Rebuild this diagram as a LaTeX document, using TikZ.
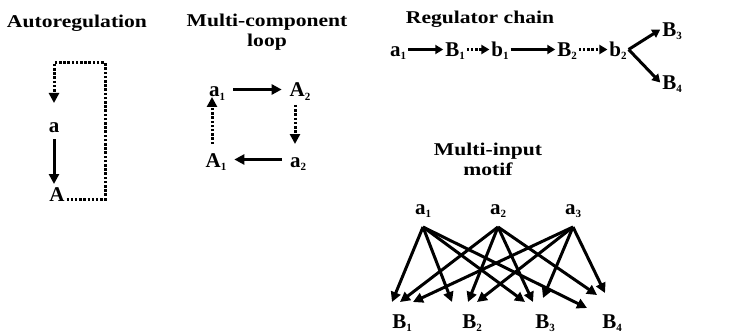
\documentclass[tikz,border=0pt]{standalone}
\usepackage{fontspec}
\setmainfont{Liberation Serif}
\newfontfamily\ttlfamily{Liberation Serif}[FakeStretch=1.2]
\usetikzlibrary{arrows.meta}
\newcommand{\lblfont}{\fontsize{21}{24}\selectfont\bfseries}
\newcommand{\ttlfont}{\ttlfamily\fontsize{18}{20}\selectfont\bfseries}
\newcommand{\idx}[1]{\raisebox{-3pt}{\fontsize{11}{11}\selectfont#1}}
\begin{document}
\begin{tikzpicture}[x=1pt,y=-1pt,>={Triangle[length=10pt,width=10pt]},
	lbl/.style={font=\lblfont,inner sep=0pt,outer sep=2pt,text height=15pt,text depth=0pt,anchor=base},
	ttl/.style={font=\ttlfont,align=center,inner sep=0pt,anchor=base},
	arr/.style={line width=3pt,->},
	dotarr/.style={line width=3pt,dash pattern=on 2.5pt off 1.7pt,->}]
	\useasboundingbox (0,0) rectangle (735,334);
	% titles (two-line ones sit on the baseline of their last line)
	\node[ttl] (tauto) at (77,28) {Autoregulation};
	\node[ttl] (tloop) at (267,47) {Multi-component\\loop};
	\node[ttl] (tchain) at (480,24) {Regulator chain};
	\node[ttl] (tmulti) at (488,175) {Multi-input\\motif};
	% autoregulation
	\node[lbl] (a) at (54,132) {a};
	\node[lbl] (A) at (57,201) {A};
	\coordinate (turn) at (105,63);
	\draw[arr,shorten <=5pt] (a.south) -- (a.south |- A.north);
	\draw[dotarr] ([yshift=-6pt]A.east) -| (turn) -| ([yshift=12pt]a.north);
	% multi-component loop
	\begin{scope}[lbl/.append style={outer sep=8pt}]
		\node[lbl] (la1) at (217,97) {a\idx{1}};
		\node[lbl] (lA2) at (300,97) {A\idx{2}};
		\node[lbl] (lA1) at (216,167) {A\idx{1}};
		\node[lbl] (la2) at (298,167) {a\idx{2}};
	\end{scope}
	\draw[arr] (la1.east) -- (lA2.west);
	\draw[dotarr] ([xshift=-5pt]lA2.south) -- ([xshift=-5pt]lA2.south |- la2.north);
	\draw[arr] (la2.west) -- (lA1.east);
	\draw[dotarr] ([xshift=-4pt]lA1.north) -- ([xshift=-4pt,yshift=8pt]lA1.north |- la1.south);
	% regulator chain
	\foreach \n/\x/\t/\k in {ca1/398/a/1,cB1/455/B/1,cb1/500/b/1,cB2/567/B/2,cb2/618/b/2}{
		\node[lbl] (\n) at (\x,57) {\t\idx{\k}};}
	\node[lbl] (cB3) at (672,37) {B\idx{3}};
	\node[lbl] (cB4) at (672,90) {B\idx{4}};
	\begin{scope}[>={Triangle[length=8pt,width=9pt]}]
		\draw[arr] (ca1.east) -- (cB1.west);
		\draw[dotarr] (cB1.east) -- (cb1.west);
		\draw[arr] (cb1.east) -- (cB2.west);
		\draw[dotarr] (cB2.east) -- (cb2.west);
		\draw[arr] (cb2.east) -- (cB3.west);
		\draw[arr] (cb2.east) -- (cB4.west);
	\end{scope}
	% multi-input motif
	\foreach \i/\x in {1/423,2/498,3/573}{\node[lbl] (ma\i) at (\x,214) {a\idx{\i}};}
	\foreach \j/\x in {1/402,2/472,3/545,4/612}{\node[lbl] (mB\j) at (\x,328) {B\idx{\j}};}
	\foreach \s/\t/\dx/\dy in {1/1/-10/-9,1/2/-20/-9,1/3/-20/-9,1/4/-25/-3,
		2/1/-2/-9,2/2/-4/-9,2/3/-12/-9,2/4/-15/-16,
		3/1/11/-9,3/2/5/-9,3/3/-2/-13,3/4/-7/-18}
	\draw[arr] ([yshift=-11pt]ma\s.south) -- ([shift={(\dx,\dy)}]mB\t.north);
\end{tikzpicture}
\end{document}
